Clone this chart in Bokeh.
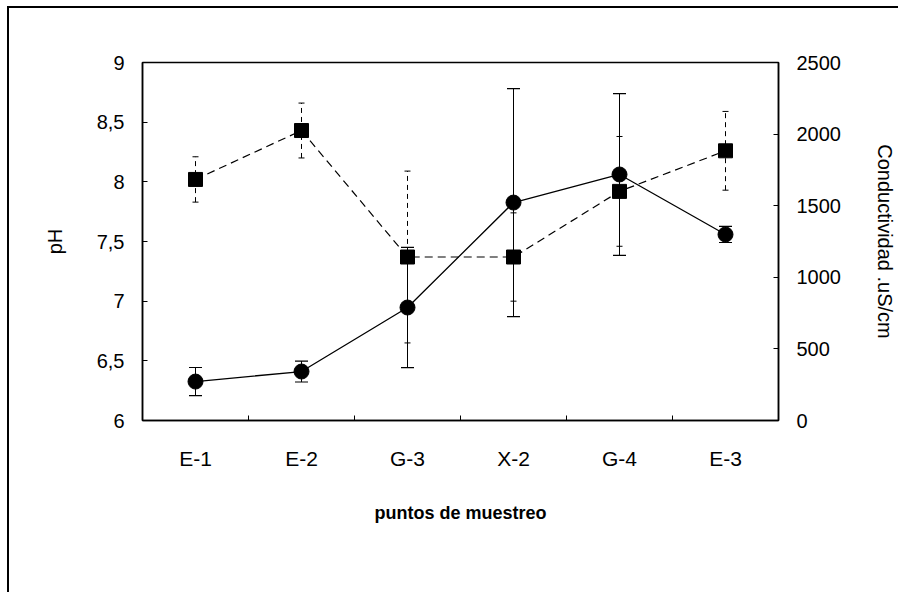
from bokeh.plotting import figure
from bokeh.models import (Range1d, LinearAxis, FixedTicker, Whisker, TeeHead,
                          ColumnDataSource, Legend, LegendItem)
from bokeh.embed import file_html
from bokeh.resources import INLINE

categories = ["E-1", "E-2", "G-3", "X-2", "G-4", "E-3"]
ph_mean = [8.02, 8.43, 7.37, 7.37, 7.92, 8.26]
ph_sd = [0.19, 0.23, 0.72, 0.37, 0.46, 0.33]
cond_mean = [272, 342, 789, 1522, 1718, 1299]
cond_sd = [98, 73, 420, 796, 565, 56]
ph_ticks = [6, 6.5, 7, 7.5, 8, 8.5, 9]
cond_ticks = [0, 500, 1000, 1500, 2000, 2500]

FONT = "Liberation Sans"
xpos = [i + 0.5 for i in range(len(categories))]
src = ColumnDataSource(dict(
    x=xpos, ph=ph_mean,
    ph_lo=[m - s for m, s in zip(ph_mean, ph_sd)],
    ph_hi=[m + s for m, s in zip(ph_mean, ph_sd)],
    cond=cond_mean,
    c_lo=[m - s for m, s in zip(cond_mean, cond_sd)],
    c_hi=[m + s for m, s in zip(cond_mean, cond_sd)],
))

p = figure(frame_width=636, frame_height=358, output_backend="svg", toolbar_location=None,
           x_range=Range1d(0, len(categories)), y_range=Range1d(ph_ticks[0], ph_ticks[-1]),
           min_border_left=133, min_border_top=54, min_border_right=118, min_border_bottom=0,
           x_axis_location=None, y_axis_location=None)
p.extra_y_ranges = {"cond": Range1d(cond_ticks[0], cond_ticks[-1])}
p.xgrid.visible = False
p.ygrid.visible = False
p.outline_line_color = "black"
p.outline_line_width = 1.5
p.styles = {"border-left": "2px solid black", "border-top": "2px solid black",
            "margin-left": "7px", "margin-top": "6px"}

def style_axis(ax, size="20px"):
    ax.axis_line_color = "black"
    ax.axis_line_width = 1.5
    ax.major_tick_in = 5
    ax.major_tick_out = 0
    ax.minor_tick_in = 0
    ax.minor_tick_out = 0
    ax.major_label_text_font = FONT
    ax.major_label_text_font_size = size
    ax.major_label_text_color = "black"
    ax.axis_label_text_font = FONT
    ax.axis_label_text_font_style = "normal"
    ax.axis_label_text_color = "black"

# bottom category axis
xax = LinearAxis(ticker=FixedTicker(ticks=xpos, minor_ticks=list(range(1, len(categories)))),
                 major_label_overrides={x: c for x, c in zip(xpos, categories)},
                 axis_label="puntos de muestreo")
style_axis(xax, "21px")
xax.major_tick_in = 0
xax.minor_tick_in = 5
xax.major_label_standoff = 26
xax.axis_label_standoff = 30
xax.axis_label_text_font_size = "18px"
xax.axis_label_text_font_style = "bold"
p.add_layout(xax, "below")

# left pH axis
yax = LinearAxis(ticker=FixedTicker(ticks=ph_ticks),
                 major_label_overrides={t: str(t).replace(".", ",").replace(",0", "") for t in ph_ticks},
                 axis_label="pH")
style_axis(yax)
yax.major_label_standoff = 18
yax.axis_label_standoff = 28
yax.axis_label_text_font_size = "20px"
p.add_layout(yax, "left")

# right conductivity axis
rax = LinearAxis(y_range_name="cond", ticker=FixedTicker(ticks=cond_ticks),
                 axis_label="Conductividad .uS/cm")
style_axis(rax)
rax.major_label_standoff = 18
rax.axis_label_standoff = 30
rax.axis_label_text_font_size = "20px"
p.add_layout(rax, "right")

# error bars
p.add_layout(Whisker(source=src, base="x", lower="ph_lo", upper="ph_hi",
                     line_color="black", line_width=1, line_dash="5 4",
                     upper_head=TeeHead(size=6, line_color="black", line_width=1),
                     lower_head=TeeHead(size=6, line_color="black", line_width=1)))
p.add_layout(Whisker(source=src, base="x", lower="c_lo", upper="c_hi", y_range_name="cond",
                     line_color="black", line_width=1,
                     upper_head=TeeHead(size=13, line_color="black", line_width=1.2),
                     lower_head=TeeHead(size=13, line_color="black", line_width=1.2)))

ph_line = p.line("x", "ph", source=src, line_color="black", line_width=1.2, line_dash="8 5")
ph_pts = p.scatter("x", "ph", source=src, marker="square", size=14,
                   fill_color="black", line_color="black")
c_line = p.line("x", "cond", source=src, y_range_name="cond", line_color="black", line_width=1.3)
c_pts = p.scatter("x", "cond", source=src, y_range_name="cond", marker="circle", size=15,
                  fill_color="black", line_color="black")

legend = Legend(items=[LegendItem(label="Media pH", renderers=[ph_line, ph_pts]),
                       LegendItem(label="Media Cond.", renderers=[c_line, c_pts])],
                orientation="horizontal", location="top_center",
                glyph_width=80, glyph_height=22, label_standoff=8, spacing=18,
                padding=3, margin=14,
                label_text_font=FONT, label_text_font_size="23px", label_text_color="black",
                border_line_color="black", border_line_width=1,
                background_fill_alpha=1)
p.add_layout(legend, "below")

open("out.html", "w").write(file_html(p, INLINE))
